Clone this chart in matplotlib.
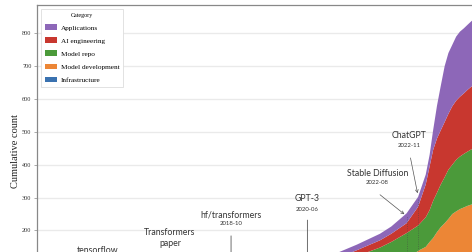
import matplotlib
matplotlib.use("Agg")
import matplotlib.pyplot as plt
import pandas as pd

dates = ['2014-07', '2015-07', '2016-07', '2017-07', '2018-07', '2019-07', '2020-07',
         '2021-01', '2021-07', '2022-01', '2022-04', '2022-08', '2022-11', '2023-01',
         '2023-02', '2023-03', '2023-04', '2023-05', '2023-06', '2023-07', '2023-08',
         '2023-09', '2023-10', '2023-11', '2023-12', '2024-01', '2024-03']
infrastructure = [1, 2, 4, 7, 10, 14, 19, 27, 35, 45, 50, 57, 68, 74, 78, 82, 88, 93, 97,
                  100, 105, 108, 110, 112, 113, 114, 116]
model_development = [0, 1, 3, 5, 8, 11, 15, 21, 27, 35, 42, 53, 70, 76, 87, 95, 107, 117,
                     125, 135, 145, 150, 155, 158, 162, 165, 168]
model_repo = [0, 2, 6, 12, 18, 25, 34, 47, 60, 68, 73, 82, 77, 90, 97, 113, 120, 130, 140,
              150, 150, 157, 160, 163, 165, 168, 171]
ai_engineering = [1, 3, 6, 9, 11, 15, 17, 17, 18, 22, 25, 30, 57, 100, 133, 155, 165, 165,
                  168, 170, 178, 180, 182, 184, 188, 191, 197]
applications = [1, 2, 3, 5, 8, 10, 13, 16, 17, 20, 22, 30, 30, 30, 35, 60, 100, 135, 170,
                185, 187, 195, 198, 198, 198, 199, 203]

categories = ['Infrastructure', 'Model development', 'Model repo', 'AI engineering', 'Applications']
colors = ['#3a72b0', '#ec8636', '#4b9a3a', '#c8372f', '#8d67b8']

events = ['tensorflow', 'Transformers\npaper', 'hf/transformers', 'GPT-3', 'Stable Diffusion', 'ChatGPT']
event_dates = ['2015-11', '2017-06', '2018-10', '2020-06', '2022-08', '2022-11']
event_labels = ['2015-11', '2017-06', '2018-10', '2020-06', '2022-08', '2022-11']

x = pd.to_datetime(dates)
ev = pd.to_datetime(event_dates)

fig = plt.figure(figsize=(4.72, 2.52), dpi=100)
ax = fig.add_axes([37 / 472, (252 - 296.2) / 252, (520 - 37) / 472, (296.2 - 5) / 252])

series = [infrastructure, model_development, model_repo, ai_engineering, applications]
ax.stackplot(x, *series, labels=categories, colors=colors, alpha=1.0, zorder=2)

ax.set_ylim(0, 886)
ax.set_xlim(pd.Timestamp('2014-07-06'), pd.Timestamp('2025-01-22'))
ax.set_yticks([100, 200, 300, 400, 500, 600, 700, 800])
ax.grid(axis='y', color='#dddddd', lw=1.0, alpha=0.6, zorder=2.5)
for s in ['right', 'bottom']:
    ax.spines[s].set_visible(False)
for s in ['left', 'top']:
    ax.spines[s].set_color('#888888')
    ax.spines[s].set_linewidth(0.9)
ax.tick_params(axis='y', length=2, width=0.5, color='#888888', pad=2, labelsize=4.5,
               labelcolor='#333333')
for lab in ax.get_yticklabels():
    lab.set_family('Liberation Serif')
ax.set_ylabel('Cumulative count', family='Liberation Serif', fontsize=7.5, labelpad=1.5,
              color='#222222')

h, l = ax.get_legend_handles_labels()
leg = ax.legend(h[::-1], l[::-1], title='Category', loc='upper left',
                prop={'family': 'Liberation Serif', 'size': 5.2},
                title_fontproperties={'family': 'Liberation Serif', 'size': 4.3},
                frameon=True, fancybox=False, edgecolor='#dddddd', framealpha=1,
                borderaxespad=0.5, handlelength=1.7, handleheight=0.75,
                labelspacing=0.95, handletextpad=0.55, borderpad=0.55)
leg.get_frame().set_linewidth(0.6)
leg.set_zorder(5)

sans = 'Lato'
name_size = 6.3
date_size = 4.3
tc = '#333333'

# tensorflow
ax.text(ev[0], 140, events[0], ha='center', va='center', family=sans, fontsize=name_size, color=tc)
# Transformers paper
ax.text(ev[1], 177, events[1], ha='center', va='center', family=sans, fontsize=name_size,
        color=tc, linespacing=1.25)
# hf/transformers
ax.text(ev[2], 247, events[2], ha='center', va='center', family=sans, fontsize=name_size, color=tc)
ax.text(ev[2], 220, event_labels[2], ha='center', va='center', family=sans, fontsize=date_size, color=tc)
ax.annotate('', xy=(ev[2], 40), xytext=(ev[2], 192),
            arrowprops=dict(arrowstyle='-', color='#555555', lw=0.6))
# GPT-3
ax.text(ev[3], 296, events[3], ha='center', va='center', family=sans, fontsize=name_size, color=tc)
ax.text(ev[3], 265, event_labels[3], ha='center', va='center', family=sans, fontsize=date_size, color=tc)
ax.annotate('', xy=(ev[3], 95), xytext=(ev[3], 240),
            arrowprops=dict(arrowstyle='-', color='#555555', lw=0.6))
# Stable Diffusion
sd_text = pd.Timestamp('2021-12-10')
ax.text(sd_text, 372, events[4], ha='center', va='center', family=sans, fontsize=name_size, color=tc)
ax.text(sd_text, 345, event_labels[4], ha='center', va='center', family=sans, fontsize=date_size, color=tc)
ax.annotate('', xy=(ev[4], 244), xytext=(pd.Timestamp('2021-12-15'), 314),
            arrowprops=dict(arrowstyle='->', color='#555555', lw=0.5, mutation_scale=5))
# ChatGPT
cg_text = pd.Timestamp('2022-08-20')
ax.text(cg_text, 488, events[5], ha='center', va='center', family=sans, fontsize=name_size, color=tc)
ax.text(cg_text, 458, event_labels[5], ha='center', va='center', family=sans, fontsize=date_size, color=tc)
ax.annotate('', xy=(ev[5], 305), xytext=(pd.Timestamp('2022-08-28'), 429),
            arrowprops=dict(arrowstyle='->', color='#555555', lw=0.5, mutation_scale=5))

# dotted markers inside the area
for d, tot in [(ev[4], 245), (ev[5], 298)]:
    ax.vlines(d, 0, tot, colors='#444444', linestyles=':', lw=0.6, alpha=0.6, zorder=3)

fig.savefig('out.png', dpi=100)
